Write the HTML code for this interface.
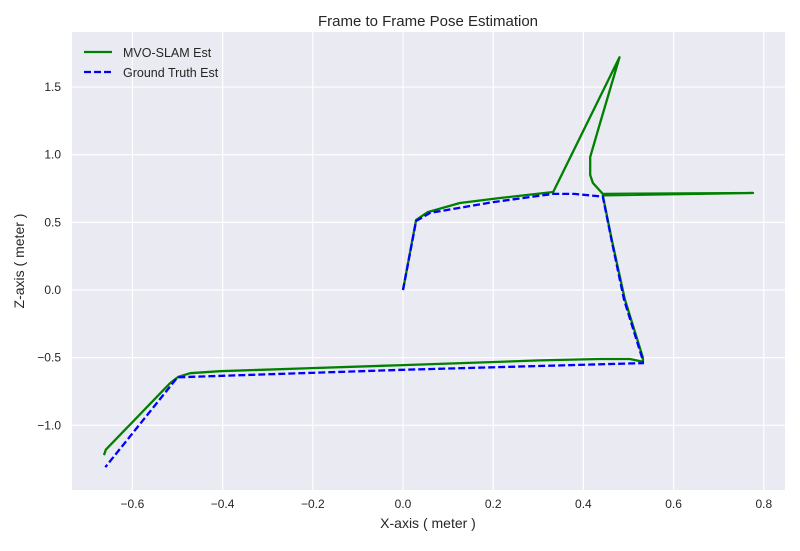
<!DOCTYPE html>
<html><head><meta charset="utf-8"><style>
body{margin:0;background:#fff;font-family:"Liberation Sans",sans-serif}
svg text{font-family:"Liberation Sans",sans-serif;fill:#262626}
</style></head><body>
<svg id="chart" width="800" height="546">
<rect x="72" y="32" width="713" height="458" fill="#eaeaf2"/>
<g id="grid"></g><g id="series"></g><g id="ticks"></g>
<text x="428" y="26" text-anchor="middle" font-size="15">Frame to Frame Pose Estimation</text>
<text x="428" y="528" text-anchor="middle" font-size="14">X-axis ( meter )</text>
<text transform="translate(24,261) rotate(-90)" text-anchor="middle" font-size="14">Z-axis ( meter )</text>
<g>
<line x1="84" y1="52" x2="112" y2="52" stroke="#008000" stroke-width="2.2"/>
<text x="123" y="57" font-size="12.5">MVO-SLAM Est</text>
<line x1="84" y1="72" x2="112" y2="72" stroke="#0000ff" stroke-width="2.2" stroke-dasharray="7,3"/>
<text x="123" y="77" font-size="12.5">Ground Truth Est</text>
</g>
</svg>
<script>
const xTicks=[-0.6,-0.4,-0.2,0.0,0.2,0.4,0.6,0.8];
const xTickLabels=["−0.6","−0.4","−0.2","0.0","0.2","0.4","0.6","0.8"];
const yTicks=[-1.0,-0.5,0.0,0.5,1.0,1.5];
const yTickLabels=["−1.0","−0.5","0.0","0.5","1.0","1.5"];
const mvoX=[0,0.029,0.055,0.126,0.215,0.333,0.48,0.437,0.415,0.415,0.421,0.443,0.776,0.443,0.463,0.492,0.532,0.532,0.503,0.437,0.304,0,-0.228,-0.406,-0.472,-0.499,-0.517,-0.659,-0.663];
const mvoZ=[0,0.517,0.576,0.643,0.68,0.724,1.72,1.234,0.983,0.85,0.791,0.71,0.717,0.70,0.37,-0.07,-0.50,-0.53,-0.51,-0.51,-0.52,-0.555,-0.58,-0.60,-0.615,-0.643,-0.69,-1.18,-1.22];
const gtX=[0,0.029,0.06,0.2,0.333,0.38,0.443,0.463,0.49,0.532,0.532,0,-0.5,-0.66];
const gtZ=[0,0.51,0.57,0.65,0.71,0.71,0.69,0.36,-0.07,-0.52,-0.54,-0.59,-0.645,-1.31];
const NS='http://www.w3.org/2000/svg';
const sx=v=>403+451*v, sy=v=>290-135.3*v;
const grid=document.getElementById('grid'),ticks=document.getElementById('ticks'),ser=document.getElementById('series');
function mk(tag,attrs,parent){const e=document.createElementNS(NS,tag);for(const k in attrs)e.setAttribute(k,attrs[k]);parent.appendChild(e);return e;}
xTicks.forEach((v,i)=>{
 const l=mk('line',{x1:sx(v),x2:sx(v),y1:32,y2:490,stroke:'#fff','stroke-width':1.2},grid);
 
 
 const t=mk('text',{x:sx(v),y:508,'text-anchor':'middle','font-size':12},ticks);t.textContent=xTickLabels[i];
 
 
});
yTicks.forEach((v,i)=>{
 const l=mk('line',{x1:72,x2:785,y1:sy(v),y2:sy(v),stroke:'#fff','stroke-width':1.2},grid);
 
 
 const t=mk('text',{x:61,y:sy(v)+4,'text-anchor':'end','font-size':12},ticks);t.textContent=yTickLabels[i];
 
 
});
function pts(X,Z){return X.map((x,i)=>sx(x).toFixed(1)+','+sy(Z[i]).toFixed(1)).join(' ');}
const g=mk('polyline',{points:pts(mvoX,mvoZ),fill:'none',stroke:'#008000','stroke-width':2.3,'stroke-linejoin':'round'},ser);


const b=mk('polyline',{points:pts(gtX,gtZ),fill:'none',stroke:'#0000ff','stroke-width':2.3,'stroke-dasharray':'7,3'},ser);


</script>
</body></html>
